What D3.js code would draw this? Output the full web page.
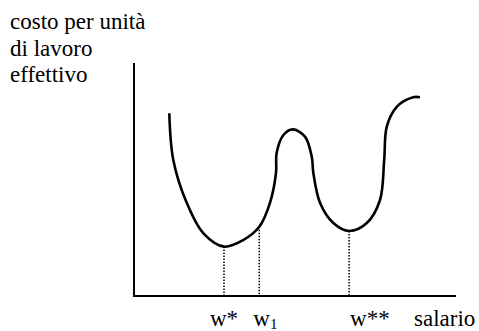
<!DOCTYPE html>
<html>
<head>
<meta charset="utf-8">
<script src="https://cdn.jsdelivr.net/npm/d3@7"></script>
<style>
  html, body { margin: 0; padding: 0; background: #fff; }
  svg { display: block; }
</style>
</head>
<body>
<svg id="chart" width="479" height="331"></svg>
<script>
// Efficiency-wage cost curve: cost per unit of effective labour vs. wage
const wage = [10.96, 12.2, 16.4, 21.5, 27.95, 33.9, 38.9, 42.2, 44.1, 44.3, 46.4, 49.3, 53.1, 55.2, 55.7, 57.8, 61.9, 66.8, 72.3, 76.4, 77.7, 78.5, 81.6, 86.7, 88.8];
const cost = [78.4, 58.4, 39.9, 27.0, 21.2, 24.0, 29.7, 39.9, 52.8, 61.4, 69.1, 71.5, 68.4, 59.8, 52.8, 39.9, 31.3, 27.9, 31.3, 41.2, 58.4, 72.7, 81.2, 85.3, 85.3];

// Marked wages (w*, w1, w**) with the cost at each
const markWage = [27.95, 38.9, 66.8];
const markCost = [21.2, 29.7, 27.9];
const markLabel = ["w*", "w1", "w**"];

const yTitle = ["costo per unità", "di lavoro", "effettivo"];
const xTitle = "salario";

const FONT = "'Liberation Serif', 'Times New Roman', serif";
const SIZE = 23;

const svg = d3.select("#chart");
const x = d3.scaleLinear().domain([0, 100]).range([134, 456]);
const y = d3.scaleLinear().domain([0, 100]).range([296, 63]);

// axes
svg.append("line").attr("x1", x(0)).attr("x2", x(0)).attr("y1", y(100)).attr("y2", y(0))
  .attr("stroke", "#000").attr("stroke-width", 2);
svg.append("line").attr("x1", x(0) - 1).attr("x2", x(100)).attr("y1", y(0)).attr("y2", y(0))
  .attr("stroke", "#000").attr("stroke-width", 2);

// dotted drop lines
svg.selectAll("line.drop").data(markWage).join("line")
  .attr("class", "drop")
  .attr("x1", d => x(d)).attr("x2", d => x(d))
  .attr("y1", (d, i) => y(markCost[i])).attr("y2", y(0) - 1)
  .attr("stroke", "#000").attr("stroke-width", 1.5)
  .attr("stroke-dasharray", "1.5,1.5");

// cost curve
const pts = wage.map((w, i) => [w, cost[i]]);
const line = d3.line().x(d => x(d[0])).y(d => y(d[1])).curve(d3.curveCatmullRom.alpha(0.5));
svg.append("path").attr("d", line(pts))
  .attr("fill", "none").attr("stroke", "#000").attr("stroke-width", 2.6)
  .attr("stroke-linecap", "butt").attr("stroke-linejoin", "round");

// y title
const yt = svg.append("text").attr("x", 10).attr("y", 29)
  .attr("font-family", FONT).attr("font-size", SIZE);
yTitle.forEach((t, i) => yt.append("tspan").attr("x", 10).attr("dy", i === 0 ? 0 : 26.7).text(t));

// wage labels
const labelY = 326;
markLabel.forEach((lab, i) => {
  const t = svg.append("text").attr("font-family", FONT).attr("font-size", SIZE).attr("y", labelY);
  if (lab === "w1") {
    t.attr("x", x(markWage[i]) - 6);
    t.append("tspan").text("w");
    t.append("tspan").attr("font-size", 15).attr("dy", 3).text("1");
  } else if (i === 0) {
    t.attr("x", x(markWage[i])).attr("text-anchor", "middle").text(lab);
  } else {
    t.attr("x", x(markWage[i]) + 1).text(lab);
  }
});
svg.append("text").attr("x", 414).attr("y", labelY)
  .attr("font-family", FONT).attr("font-size", SIZE).text(xTitle);
</script>
</body>
</html>
